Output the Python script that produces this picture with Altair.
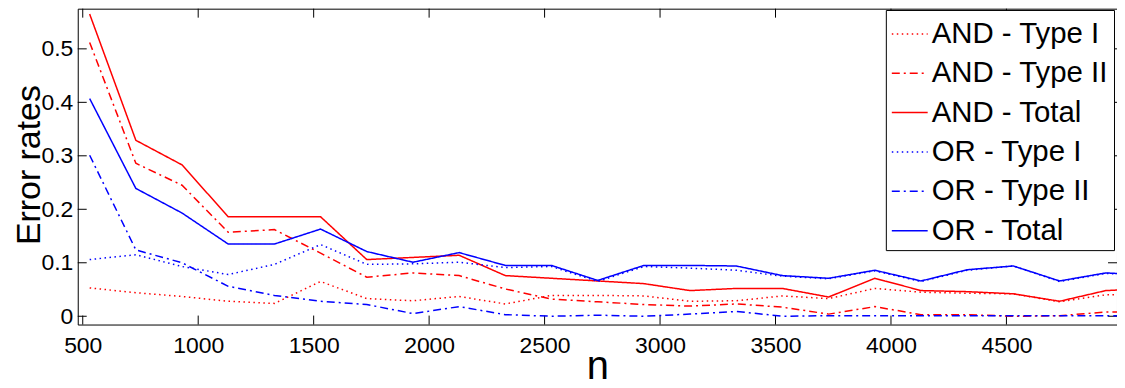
import altair as alt
import pandas as pd

n_values = [530, 730, 930, 1130, 1330, 1530, 1730, 1930, 2130, 2330, 2530, 2730,
            2930, 3130, 3330, 3530, 3730, 3930, 4130, 4330, 4530, 4730, 4930, 4980]

and_type1 = [0.053, 0.044, 0.037, 0.028, 0.024, 0.065, 0.033, 0.029, 0.037, 0.023, 0.039, 0.039,
             0.038, 0.028, 0.029, 0.038, 0.033, 0.052, 0.045, 0.043, 0.042, 0.027, 0.040, 0.040]
and_type2 = [0.512, 0.286, 0.245, 0.157, 0.162, 0.118, 0.073, 0.081, 0.076, 0.051, 0.032, 0.027,
             0.022, 0.019, 0.023, 0.017, 0.004, 0.018, 0.003, 0.003, 0.000, 0.001, 0.008, 0.008]
and_total = [0.565, 0.329, 0.283, 0.186, 0.186, 0.186, 0.106, 0.110, 0.114, 0.076, 0.071, 0.066,
             0.061, 0.048, 0.052, 0.052, 0.036, 0.071, 0.048, 0.046, 0.042, 0.028, 0.048, 0.049]
or_type1 = [0.106, 0.115, 0.093, 0.078, 0.097, 0.134, 0.097, 0.098, 0.101, 0.091, 0.093, 0.065,
            0.093, 0.090, 0.086, 0.075, 0.070, 0.085, 0.065, 0.086, 0.094, 0.065, 0.080, 0.079]
or_type2 = [0.301, 0.124, 0.100, 0.056, 0.039, 0.028, 0.022, 0.005, 0.018, 0.003, 0.000, 0.002,
            0.000, 0.004, 0.009, 0.000, 0.001, 0.001, 0.001, 0.001, 0.001, 0.001, 0.001, 0.001]
or_total = [0.407, 0.239, 0.193, 0.135, 0.135, 0.163, 0.121, 0.101, 0.119, 0.095, 0.095, 0.067,
            0.095, 0.095, 0.094, 0.076, 0.071, 0.086, 0.066, 0.087, 0.094, 0.066, 0.081, 0.080]

series_names = ["AND - Type I", "AND - Type II", "AND - Total",
                "OR - Type I", "OR - Type II", "OR - Total"]
series_values = [and_type1, and_type2, and_total, or_type1, or_type2, or_total]
series_colors = ["#ff0000", "#ff0000", "#ff0000", "#0000ff", "#0000ff", "#0000ff"]
series_dashes = [[1.5, 3.5], [8, 4, 2, 4], [1, 0], [1.5, 3.5], [8, 4, 2, 4], [1, 0]]

x_ticks = [500, 1000, 1500, 2000, 2500, 3000, 3500, 4000, 4500]
y_ticks = [0, 0.1, 0.2, 0.3, 0.4, 0.5]

rows = []
for name, vals in zip(series_names, series_values):
    for n, v in zip(n_values, vals):
        rows.append({"n": n, "rate": v, "series": name})
df = pd.DataFrame(rows)

W, H = 1043, 317
FONT = "Liberation Sans"

xscale = alt.Scale(domain=[478.4, 4978.8], nice=False, zero=False)
yscale = alt.Scale(domain=[-0.0155, 0.5751], nice=False, zero=False)

legend_opts = dict(title=None, orient="none", legendX=811, legendY=1.3)

lines = alt.Chart(df).mark_line(strokeWidth=1.5, clip=True).encode(
    x=alt.X("n:Q", scale=xscale,
            axis=alt.Axis(values=x_ticks, title="n", format="d", labelFontSize=23,
                          labelPadding=10, ticks=False, domain=False, grid=False,
                          titleFontSize=40, titleFontWeight="normal",
                          titleY=54, titleBaseline="alphabetic")),
    y=alt.Y("rate:Q", scale=yscale,
            axis=alt.Axis(values=y_ticks, title="Error rates", labelFontSize=23,
                          labelPadding=5, ticks=False, domain=False, grid=False,
                          labelExpr="datum.value == 0 ? '0' : format(datum.value, '.1f')",
                          titleFontSize=34, titleFontWeight="normal",
                          titleX=-38, titleY=H / 2 - 2, titleAngle=270,
                          titleBaseline="alphabetic", titleAlign="center")),
    color=alt.Color("series:N", sort=series_names,
                    scale=alt.Scale(domain=series_names, range=series_colors),
                    legend=alt.Legend(**legend_opts)),
    strokeDash=alt.StrokeDash("series:N", sort=series_names,
                              scale=alt.Scale(domain=series_names, range=series_dashes),
                              legend=alt.Legend(**legend_opts)),
    detail="series:N",
)

xt = pd.DataFrame({"t": x_ticks})
yt = pd.DataFrame({"t": y_ticks})

xtick_bottom = alt.Chart(xt).mark_rule(color="black", strokeWidth=1).encode(
    x=alt.X("t:Q", scale=xscale), y=alt.value(H), y2=alt.value(H - 9))
xtick_top = alt.Chart(xt).mark_rule(color="black", strokeWidth=1).encode(
    x=alt.X("t:Q", scale=xscale), y=alt.value(0), y2=alt.value(9))
ytick_left = alt.Chart(yt).mark_rule(color="black", strokeWidth=1).encode(
    y=alt.Y("t:Q", scale=yscale), x=alt.value(0), x2=alt.value(9))
ytick_right = alt.Chart(yt).mark_rule(color="black", strokeWidth=1).encode(
    y=alt.Y("t:Q", scale=yscale), x=alt.value(W), x2=alt.value(W - 9))

chart = alt.layer(xtick_bottom, xtick_top, ytick_left, ytick_right, lines).properties(
    width=W, height=H,
    autosize=alt.AutoSizeParams(type="none"),
    padding={"left": 70, "top": 0, "right": 0, "bottom": 63},
).configure(font=FONT).configure_view(
    stroke="black", strokeWidth=1
).configure_axis(
    labelColor="black", titleColor="black", labelFont=FONT, titleFont=FONT
).configure_legend(
    symbolType="stroke", symbolSize=1296, symbolStrokeWidth=1.5,
    labelFontSize=29.5, labelFont=FONT, labelColor="black", labelOffset=3,
    padding=5, rowPadding=5.5, strokeColor="black", fillColor="white",
    cornerRadius=0, labelLimit=400,
)

chart.save("out.html", embed_options={"renderer": "svg", "actions": False})
